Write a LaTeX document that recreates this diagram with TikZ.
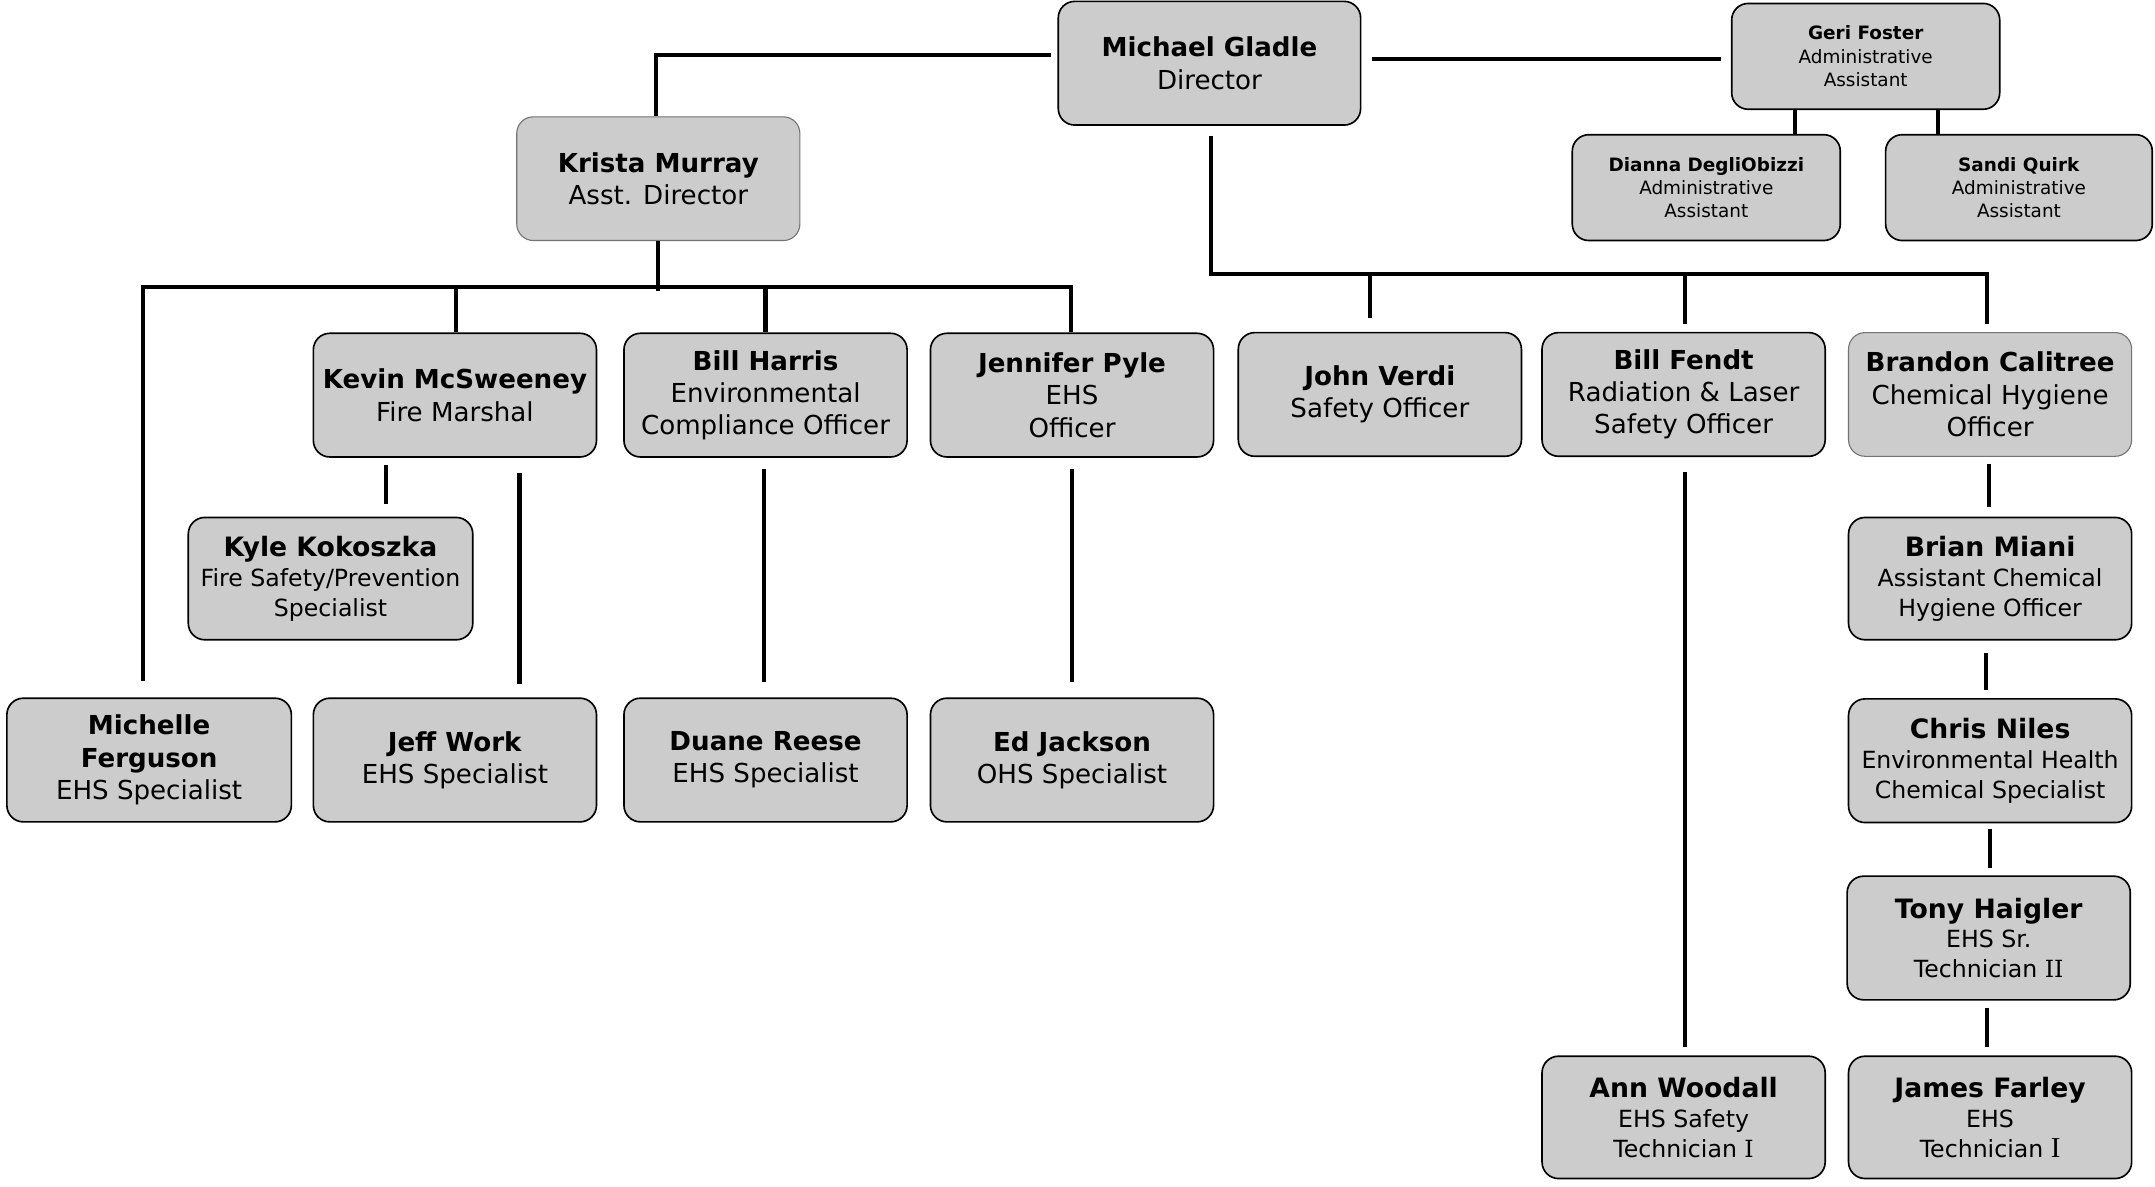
\documentclass[tikz,border=0pt]{standalone}
\usepackage{fontspec}
\setmainfont{DejaVu Sans}
\newfontfamily\serifI{Liberation Serif}
\newfontfamily\slabI{DejaVu Serif}
\usetikzlibrary{calc}
\definecolor{boxgray}{HTML}{CCCCCC}
\newcommand{\bign}[1]{{\fontsize{19.4}{21.8}\selectfont\bfseries #1}}
\newcommand{\romI}{{\slabI I}}
\tikzset{
  box/.style={draw=black, line width=1.2pt, fill=boxgray, rounded corners=12pt,
    minimum width=206pt, minimum height=90pt, inner sep=0pt, align=center,
    font=\fontsize{19}{23.5}\selectfont},
  softbox/.style={box, draw=black!55, line width=0.8pt},
  midbox/.style={box, minimum height=89pt, font=\fontsize{17.2}{21.8}\selectfont},
  smallbox/.style={box, minimum width=195pt, minimum height=77pt,
    font=\fontsize{13.4}{17}\selectfont},
  conn/.style={line width=3pt, black},
  thinconn/.style={line width=2.4pt, black}
}
\begin{document}
\begin{tikzpicture}[x=1pt, y=-1pt]
\useasboundingbox (0,0) rectangle (1568,863);

% nodes
\node[box, minimum width=220pt] (gladle) at (880,46) {\textbf{Michael Gladle}\\Director};
\node[smallbox] (geri) at (1357.5,41) {\textbf{Geri Foster}\\Administrative\\Assistant};
\node[smallbox] (dianna) at (1241.5,136.5) {\textbf{Dianna DegliObizzi}\\Administrative\\Assistant};
\node[smallbox, minimum width=194pt] (sandi) at (1469,136.5) {\textbf{Sandi Quirk}\\Administrative\\Assistant};
\node[softbox] (krista) at (479,130) {\textbf{Krista Murray}\\Asst. Director};

\node[box] (kevin) at (331,287.5) {\textbf{Kevin McSweeney}\\Fire Marshal};
\node[box] (harris) at (557,287.5) {\textbf{Bill Harris}\\Environmental\\Compliance Officer};
\node[box] (pyle) at (780,287.5) {\textbf{Jennifer Pyle}\\EHS\\Officer};
\node[box] (verdi) at (1004,287) {\textbf{John Verdi}\\Safety Officer};
\node[box] (fendt) at (1225,287) {\textbf{Bill Fendt}\\Radiation \& Laser\\Safety Officer};
\node[softbox] (calitree) at (1448,287) {\textbf{Brandon Calitree}\\Chemical Hygiene\\Officer};

\node[midbox, minimum width=207pt] (kyle) at (240.5,421) {\bign{Kyle Kokoszka}\\Fire Safety/Prevention\\Specialist};
\node[midbox] (miani) at (1448,421) {\bign{Brian Miani}\\Assistant Chemical\\Hygiene Officer};

\node[box, minimum width=207pt] (michelle) at (108.5,553) {\textbf{Michelle}\\\textbf{Ferguson}\\EHS Specialist};
\node[box] (jeff) at (331,553) {\textbf{Jeff Work}\\EHS Specialist};
\node[box] (reese) at (557,553) {\textbf{Duane Reese}\\EHS Specialist};
\node[box] (jackson) at (780,553) {\textbf{Ed Jackson}\\OHS Specialist};
\node[midbox, minimum height=90pt] (niles) at (1448,553.5) {\bign{Chris Niles}\\Environmental Health\\Chemical Specialist};
\node[midbox, minimum height=90pt] (haigler) at (1447,682.5) {\bign{Tony Haigler}\\EHS Sr.\\Technician \romI\romI};
\node[midbox] (woodall) at (1225,813) {\bign{Ann Woodall}\\EHS Safety\\Technician \romI};
\node[midbox] (farley) at (1448,813) {\bign{James Farley}\\EHS\\Technician {\serifI\fontsize{21}{21}\selectfont I}};

% connectors: director level
\draw[conn] ($(gladle.west)+(-5,-6)$) -| ($(krista.north)+(-2,0)$);
\draw[conn] ($(gladle.east)+(8,-3)$) -- ($(geri.west)+(-7,2)$);
\coordinate (g1) at ($(geri.south)+(-51.5,0)$);
\coordinate (g2) at ($(geri.south)+(52.5,0)$);
\draw[thinconn] (g1) -- (g1 |- dianna.north);
\draw[thinconn] (g2) -- (g2 |- sandi.north);
\draw[conn] ($(gladle.south)+(1,7)$) |- ($(calitree.north)+(-2,-42)$) -- ($(calitree.north)+(-2,-6)$);
\draw[conn] ($(verdi.north)+(-7,-42)$) -- ($(verdi.north)+(-7,-10)$);
\draw[conn] ($(fendt.north)+(1,-42)$) -- ($(fendt.north)+(1,-6)$);

% connectors: assistant director level
\draw[conn] (krista.south) -- ++(0,36);
\draw[conn] ($(michelle.north)+(-4.5,-12)$) |- ($(pyle.north)+(-1,-33)$) -- ($(pyle.north)+(-1,0)$);
\draw[conn] ($(kevin.north)+(1,-33)$) -- ($(kevin.north)+(1,0)$);
\draw[conn] ($(harris.north)+(0,-33)$) -- (harris.north);

% lower connectors
\draw[conn] ($(kevin.south)+(-50,5)$) -- ($(kyle.north)+(40.5,-9)$);
\draw[conn] ($(kevin.south)+(47,11)$) -- ($(jeff.north)+(47,-10)$);
\draw[conn] ($(harris.south)+(-1,8)$) -- ($(reese.north)+(-1,-11)$);
\draw[conn] ($(pyle.south)+(0,8)$) -- ($(jackson.north)+(0,-11)$);
\draw[conn] ($(fendt.south)+(1,11)$) -- ($(woodall.north)+(1,-6)$);
\draw[conn] ($(calitree.south)+(-1,5)$) -- ($(miani.north)+(-1,-7)$);
\draw[conn] ($(miani.south)+(-3,9)$) -- ($(niles.north)+(-3,-6)$);
\draw[conn] ($(niles.south)+(0,4)$) -- ($(haigler.north)+(1,-5)$);
\draw[conn] ($(haigler.south)+(-1,5)$) -- ($(farley.north)+(-2,-6)$);
\end{tikzpicture}
\end{document}
